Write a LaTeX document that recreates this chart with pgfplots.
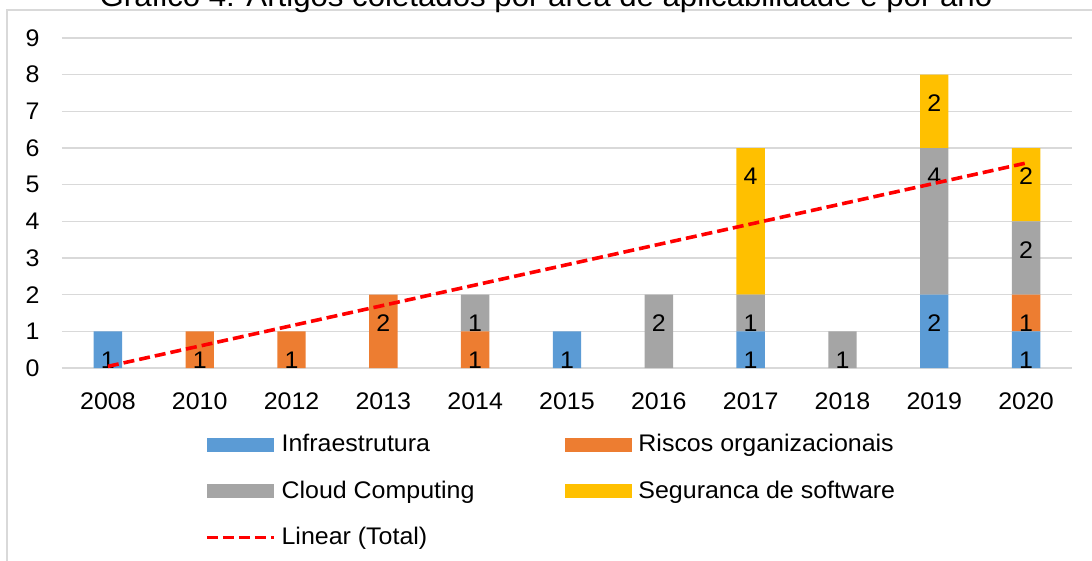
\documentclass[border=0pt]{standalone}
\usepackage{fontspec}
\setmainfont{Liberation Sans}[FakeStretch=1.04]
\usepackage{pgfplots}
\usepackage{pgfplotstable}
\pgfplotsset{compat=1.18}
\definecolor{cInfra}{HTML}{5B9BD5}
\definecolor{cRisco}{HTML}{ED7D31}
\definecolor{cCloud}{HTML}{A5A5A5}
\definecolor{cSeg}{HTML}{FFC000}
\definecolor{cGrid}{HTML}{D9D9D9}

% articles per year and area (0..10 = 2008..2020)
\pgfplotstableread{
x infra risco cloud seg
0 1 0 0 0
1 0 1 0 0
2 0 1 0 0
3 0 2 0 0
4 0 1 1 0
5 1 0 0 0
6 0 0 2 0
7 1 0 1 4
8 0 0 1 0
9 2 0 4 2
10 1 1 2 2
}\anos

\begin{document}
\begin{tikzpicture}
\draw[cGrid, line width=0.75pt] (3.5pt,-281pt) -- (3.5pt,-5pt) -- (547pt,-5pt);
\node[anchor=base, font=\fontsize{15}{18}\selectfont] at (273pt,-3.5pt)
  {Gráfico 4: Artigos coletados por área de aplicabilidade e por ano};

\begin{axis}[
  at={(31pt,-184pt)}, anchor=south west,
  scale only axis, width=505pt, height=165pt,
  ybar stacked, bar width=14.2pt,
  xmin=-0.5, xmax=10.5, ymin=0, ymax=9,
  xtick={0,...,10},
  xticklabels={2008,2010,2012,2013,2014,2015,2016,2017,2018,2019,2020},
  ytick={0,...,9},
  major tick length=0pt,
  axis line style={draw=none},
  ymajorgrids, grid style={cGrid, line width=0.75pt},
  tick label style={font=\fontsize{12}{14}\selectfont},
  /pgf/number format/assume math mode=true,
  xticklabel style={inner sep=0pt, yshift=-12pt},
  yticklabel style={inner sep=0pt, xshift=-11pt},
  point meta=rawy,
  visualization depends on={rawy \as \rawyv},
  nodes near coords={\pgfmathfloatifflags{\pgfplotspointmeta}{0}{}{\pgfmathprintnumber{\pgfplotspointmeta}}},
  every node near coord/.append style={anchor=center, yshift=\rawyv*9.1667pt-14.3pt,
    inner sep=0pt, font=\fontsize{12}{14}\selectfont},
  legend columns=2, legend cell align=left,
  legend style={at={(0.1416,-0.1894)}, anchor=north west, draw=none, fill=none,
    inner sep=0pt, outer sep=0pt, row sep=9pt, font=\fontsize{12}{14}\selectfont,
    /tikz/every odd column/.style={column sep=1pt},
    /tikz/every even column/.style={column sep=43.5pt}},
  legend image code/.code={\fill[#1] (0pt,-3.5pt) rectangle (33.5pt,3.5pt);},
]
\addplot[fill=cInfra, draw=none] table[x=x, y=infra]{\anos};
\addlegendentry{Infraestrutura}
\addplot[fill=cRisco, draw=none] table[x=x, y=risco]{\anos};
\addlegendentry{Riscos organizacionais}
\addplot[fill=cCloud, draw=none] table[x=x, y=cloud]{\anos};
\addlegendentry{Cloud Computing}
\addplot[fill=cSeg, draw=none] table[x=x, y=seg]{\anos};
\addlegendentry{Seguranca de software}
\addlegendimage{legend image code/.code={\draw[red, line width=1.8pt, dash pattern=on 5.5pt off 2.5pt] (0pt,0pt) -- (33.5pt,0pt);}}
\addlegendentry{Linear (Total)}
\end{axis}

% linear trend of the yearly totals
\begin{axis}[
  at={(31pt,-184pt)}, anchor=south west,
  scale only axis, width=505pt, height=165pt,
  xmin=-0.5, xmax=10.5, ymin=0, ymax=9,
  hide axis,
]
\addplot[red, line width=1.8pt, dash pattern=on 5.5pt off 2.5pt] coordinates {(0,0.045) (10,5.59)};
\end{axis}

\pgfresetboundingbox
\path[use as bounding box] (0pt,0pt) rectangle (546pt,-280.5pt);
\end{tikzpicture}
\end{document}
